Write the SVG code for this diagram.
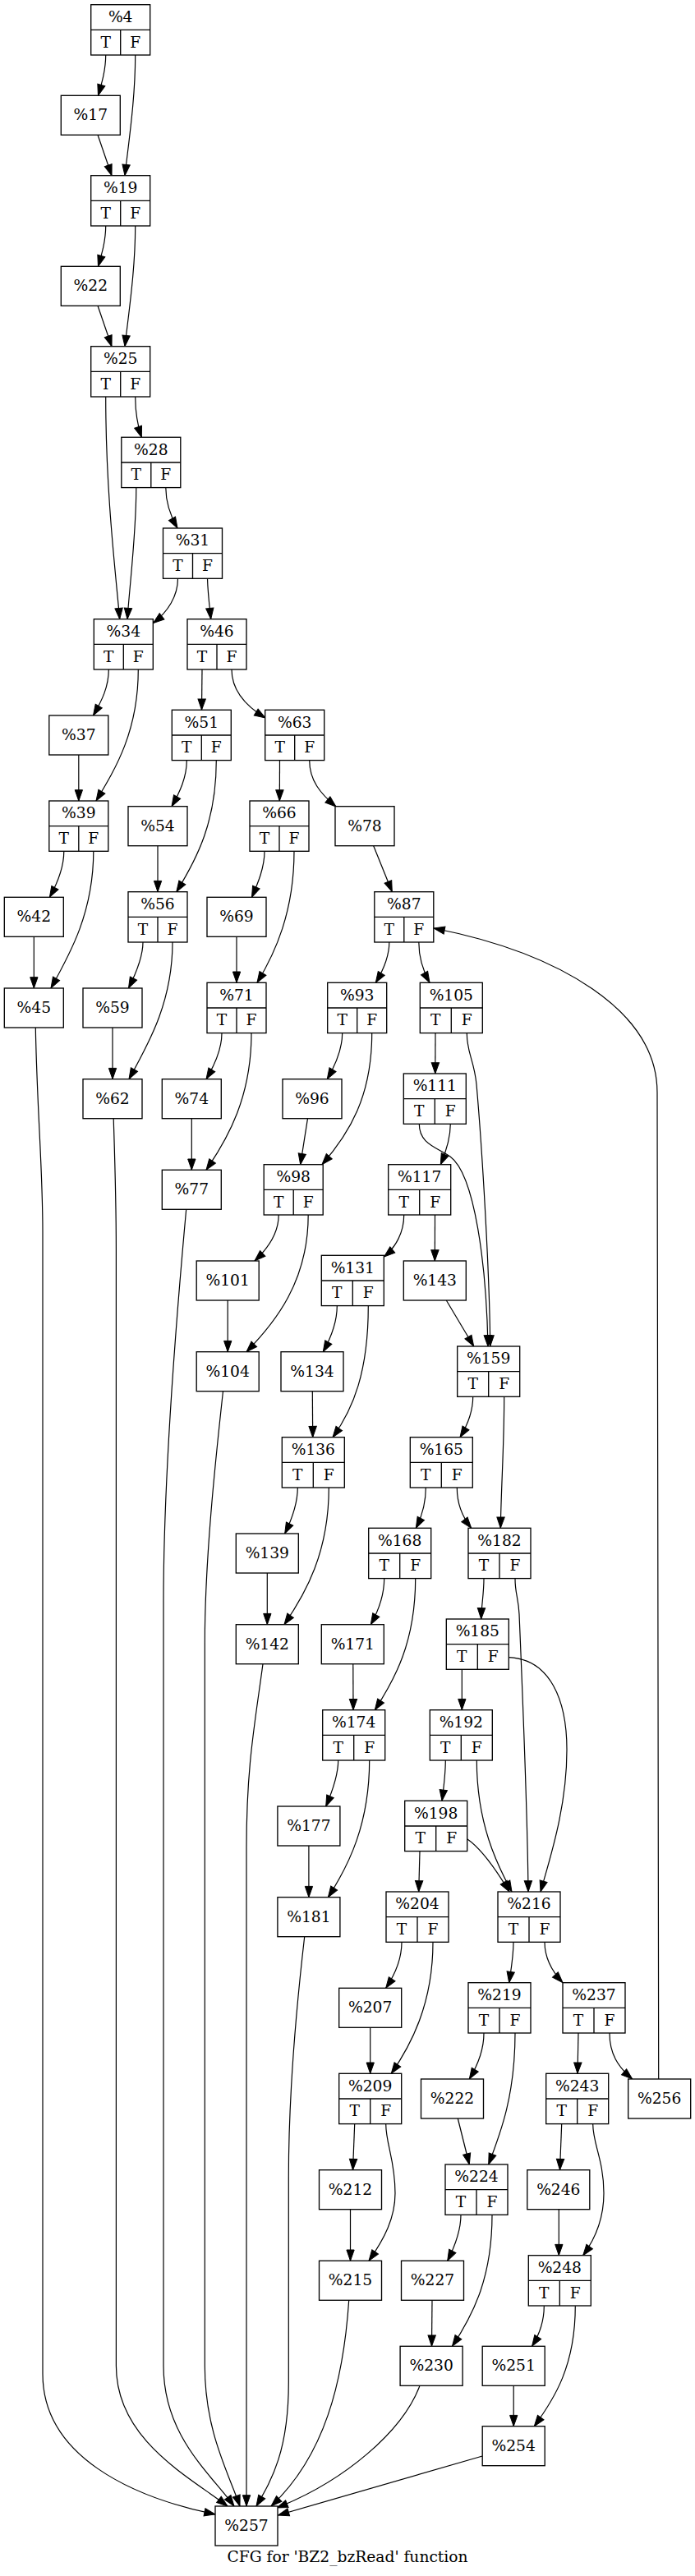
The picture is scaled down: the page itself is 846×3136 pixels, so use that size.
<svg xmlns="http://www.w3.org/2000/svg" width="846" height="3136" viewBox="0 0 846 3136">
<style>
.n rect{fill:#fff;stroke:#000;stroke-width:1.33}
.n path{fill:none;stroke:#000;stroke-width:1.33}
text{font-family:"DejaVu Serif","Liberation Serif",serif;font-size:18.67px;text-anchor:middle;fill:#000}
#edges path{fill:none;stroke:#000;stroke-width:1.2;marker-end:url(#ah)}
</style>
<defs>
<marker id="ah" markerUnits="userSpaceOnUse" markerWidth="14" markerHeight="10" refX="13.3" refY="4.7" orient="auto" viewBox="0 0 14 10" overflow="visible"><path d="M0,0L13.3,4.7L0,9.3z" fill="#000" stroke="#000" stroke-width="1"/></marker>
</defs>
<rect x="0" y="0" width="846" height="3136" fill="#fff"/>
<g id="edges">
<path d="M128.7,67 C128.7,85 124,101 119.5,116.3"/>
<path d="M164.7,67 C164.7,120 157,170 152,213.7"/>
<path d="M119,164.3 L136,213.7"/>
<path d="M128.7,275 C128.7,293 124,309 119.5,324.3"/>
<path d="M164.7,275 C164.7,328 157,378 152,421.7"/>
<path d="M119,372.3 L136,421.7"/>
<path d="M128.7,483 C128.7,600 141,700 145.7,753.7"/>
<path d="M164.7,483 C164.7,502 167.5,518 172.3,532.3"/>
<path d="M165.8,593.7 C165.8,650 158,710 155,753.7"/>
<path d="M201.8,593.7 C201.8,612 207.5,628 216,643"/>
<path d="M216.5,704.3 C216.5,726 204,745 186.5,758.5"/>
<path d="M252.5,704.3 C253,722 255,738 256.7,753.7"/>
<path d="M132.3,815 C132.3,836 124,853 113.5,871"/>
<path d="M168.3,815 C168.3,890 141,935 117,975"/>
<path d="M95.8,919 L95.8,975"/>
<path d="M77.8,1036.3 C77.8,1056 70,1075 60.4,1092.3"/>
<path d="M113.8,1036.3 C113.8,1110 86,1160 62,1203"/>
<path d="M41.3,1140.3 L41.3,1203"/>
<path d="M43.3,1251 C45,1350 52,1420 52,1500 L52,2890 C52,2990 160,3040 262,3061"/>
<path d="M246,815 L245.5,864.3"/>
<path d="M282,815 C282,842 300,860 323,874"/>
<path d="M227.3,925.7 C227.3,946 219,964 209,981.7"/>
<path d="M263.3,925.7 C263.3,1000 240,1045 214.8,1085.7"/>
<path d="M192,1029.7 L192,1085.7"/>
<path d="M174,1147 C174,1166 165,1186 156.5,1203"/>
<path d="M210,1147 C210,1220 181,1270 157,1313.7"/>
<path d="M137,1251 L137,1313.7"/>
<path d="M138.2,1361.7 C140,1420 141.4,1460 141.4,1520 L141.4,2880 C141.4,2970 230,3015 277,3051"/>
<path d="M340.5,925.7 L340.3,975"/>
<path d="M376.7,925.7 C376.7,950 390,966 409,982"/>
<path d="M322,1036.3 C322,1056 314,1075 306.5,1092.3"/>
<path d="M358,1036.3 C358,1110 335,1160 313,1196.3"/>
<path d="M288,1140.3 L288,1196.3"/>
<path d="M270,1257.7 C270,1278 261,1297 251,1313.7"/>
<path d="M306,1257.7 C306,1335 278,1385 251,1424.3"/>
<path d="M233.3,1361.7 L233.3,1424.3"/>
<path d="M226.7,1472.3 C215,1600 199,1800 199,1950 L199,2880 C199,2965 255,3010 285,3051"/>
<path d="M454.7,1029.7 L477.3,1085.7"/>
<path d="M473.8,1147 C473.8,1166 466,1182 457.3,1196.3"/>
<path d="M509.8,1147 C509.8,1166 515,1182 523,1196.3"/>
<path d="M416.7,1257.7 C416.7,1278 408,1297 398.3,1313.7"/>
<path d="M452.7,1257.7 C452.7,1335 425,1380 392,1417.7"/>
<path d="M374.5,1361.7 L365.7,1417.7"/>
<path d="M339.2,1479 C339.2,1500 326,1520 310,1535"/>
<path d="M375.2,1479 C375.2,1560 335,1610 300,1645.7"/>
<path d="M277.2,1583 L277.2,1645.7"/>
<path d="M271.5,1693.7 C262,1780 249.3,1900 249.3,2000 L249.3,2880 C249.3,2960 278,3010 292,3051"/>
<path d="M530,1257.7 L529.8,1307"/>
<path d="M568.3,1257.7 C568.3,1282 577,1290 580,1320 C587,1400 596,1550 596.7,1639"/>
<path d="M510.3,1368.3 C510.3,1392 530,1396 548,1408 C578,1430 592,1540 594,1639"/>
<path d="M548.3,1368.3 C548.3,1386 543,1402 536.3,1417.7"/>
<path d="M491.7,1479 C491.7,1500 482,1518 467.5,1530"/>
<path d="M529.5,1479 L529.3,1535"/>
<path d="M410.3,1589.7 C410.3,1610 402,1630 393.3,1645.7"/>
<path d="M448.3,1589.7 C448.3,1670 430,1715 405,1749.7"/>
<path d="M380.3,1693.7 L380.7,1749.7"/>
<path d="M362.3,1811 C362.3,1830 355,1850 346.7,1867"/>
<path d="M400.3,1811 C400.3,1890 372,1940 346,1977.7"/>
<path d="M325.3,1915 L325.3,1977.7"/>
<path d="M320,2025.7 C310,2100 300,2150 300,2250 L300,3051"/>
<path d="M543.3,1583 L576.7,1639"/>
<path d="M575.7,1700.3 C575.7,1719 569,1735 560,1749.7"/>
<path d="M613.7,1700.3 C613.7,1760 610,1810 609.3,1860.3"/>
<path d="M518.3,1811 C518.3,1830 513,1847 506.3,1860.3"/>
<path d="M556.3,1811 C556.3,1830 563,1847 573.7,1860.3"/>
<path d="M467.7,1921.7 C467.7,1942 460,1962 451.3,1977.7"/>
<path d="M505.7,1921.7 C505.7,2000 480,2045 456.3,2081.7"/>
<path d="M429.8,2025.7 L430,2081.7"/>
<path d="M411.7,2143 C411.7,2162 404,2182 396.7,2199"/>
<path d="M449.7,2143 C449.7,2220 425,2270 399.4,2309.7"/>
<path d="M375.9,2247 L375.9,2309.7"/>
<path d="M370.7,2357.7 C360,2450 351.3,2550 351.3,2650 L351.3,2900 C351.3,2985 330,3020 312,3051"/>
<path d="M589,1921.7 C589,1940 586,1955 585.7,1971"/>
<path d="M627,1921.7 C627,1940 631,1945 632,1965 C636,2060 642,2200 643,2303"/>
<path d="M562.3,2032.3 L562.3,2081.7"/>
<path d="M619.3,2017.7 C670,2020 690,2070 690,2130 C690,2200 670,2260 658,2303"/>
<path d="M542.3,2143 C542.3,2160 540,2177 538,2192.3"/>
<path d="M580.3,2143 C580.3,2220 605,2270 623,2303"/>
<path d="M569,2239 C585,2250 605,2278 620,2303"/>
<path d="M511,2253.7 L509.7,2303"/>
<path d="M489,2364.3 C489,2385 480,2405 469.7,2420.3"/>
<path d="M527,2364.3 C527,2440 500,2490 476.3,2524.3"/>
<path d="M450.7,2468.3 L450.7,2524.3"/>
<path d="M431.7,2585.7 L429.5,2641.7"/>
<path d="M469.7,2585.7 C469.7,2610 481,2630 481,2670 C481,2700 468,2725 449,2752.3"/>
<path d="M426.5,2689.7 L426.5,2752.3"/>
<path d="M424.7,2800.3 C418,2900 395,2990 330,3051"/>
<path d="M625,2364.3 C625,2382 622,2398 619.7,2413.7"/>
<path d="M663,2364.3 C663,2385 672,2400 685,2413.7"/>
<path d="M589,2475 C589,2495 581,2515 571.3,2531"/>
<path d="M627,2475 C627,2550 610,2595 594.7,2635"/>
<path d="M557.3,2579 L571.3,2635"/>
<path d="M561,2696.3 C561,2716 553,2736 544.7,2752.3"/>
<path d="M599,2696.3 C599,2770 578,2815 550.5,2856.3"/>
<path d="M526,2800.3 L525.5,2856.3"/>
<path d="M511,2904.3 C490,2960 420,3020 337,3053"/>
<path d="M704,2475 L703,2524.3"/>
<path d="M742,2475 C742,2500 752,2516 769.7,2531"/>
<path d="M683.7,2585.7 L681.5,2641.7"/>
<path d="M721.7,2585.7 C721.7,2610 735,2630 735,2670 C735,2700 725,2725 709.7,2745.7"/>
<path d="M680.3,2689.7 L680.3,2745.7"/>
<path d="M662.3,2807.3 C662.3,2826 656,2843 647.6,2856.3"/>
<path d="M700.3,2807.3 C700.3,2880 675,2920 650.3,2953.7"/>
<path d="M625.2,2904.3 L625.2,2953.7"/>
<path d="M587.2,2990 L338.5,3062"/>
<path d="M801.7,2531 L800,1330 C800,1230 680,1160 528,1130"/>
</g>
<g id="n4" class="n"><rect x="110.7" y="5.7" width="72" height="61.3"/><path d="M110.7,36.3h72M146.7,36.3v30.7"/><text x="146.7" y="27">%4</text><text x="128.7" y="57.7">T</text><text x="164.7" y="57.7">F</text></g>
<g id="n17" class="n"><rect x="74.3" y="116.3" width="72" height="48"/><text x="110.3" y="146.3">%17</text></g>
<g id="n19" class="n"><rect x="110.7" y="213.7" width="72" height="61.3"/><path d="M110.7,244.3h72M146.7,244.3v30.7"/><text x="146.7" y="235">%19</text><text x="128.7" y="265.7">T</text><text x="164.7" y="265.7">F</text></g>
<g id="n22" class="n"><rect x="74.3" y="324.3" width="72" height="48"/><text x="110.3" y="354.3">%22</text></g>
<g id="n25" class="n"><rect x="110.7" y="421.7" width="72" height="61.3"/><path d="M110.7,452.3h72M146.7,452.3v30.7"/><text x="146.7" y="443">%25</text><text x="128.7" y="473.7">T</text><text x="164.7" y="473.7">F</text></g>
<g id="n28" class="n"><rect x="147.8" y="532.3" width="72" height="61.3"/><path d="M147.8,563h72M183.8,563v30.7"/><text x="183.8" y="553.7">%28</text><text x="165.8" y="584.3">T</text><text x="201.8" y="584.3">F</text></g>
<g id="n31" class="n"><rect x="198.5" y="643" width="72" height="61.3"/><path d="M198.5,673.7h72M234.5,673.7v30.7"/><text x="234.5" y="664.3">%31</text><text x="216.5" y="695">T</text><text x="252.5" y="695">F</text></g>
<g id="n34" class="n"><rect x="114.3" y="753.7" width="72" height="61.3"/><path d="M114.3,784.3h72M150.3,784.3v30.7"/><text x="150.3" y="775">%34</text><text x="132.3" y="805.7">T</text><text x="168.3" y="805.7">F</text></g>
<g id="n46" class="n"><rect x="228" y="753.7" width="72" height="61.3"/><path d="M228,784.3h72M264,784.3v30.7"/><text x="264" y="775">%46</text><text x="246" y="805.7">T</text><text x="282" y="805.7">F</text></g>
<g id="n37" class="n"><rect x="59.8" y="871" width="72" height="48"/><text x="95.8" y="901">%37</text></g>
<g id="n51" class="n"><rect x="209.3" y="864.3" width="72" height="61.3"/><path d="M209.3,895h72M245.3,895v30.7"/><text x="245.3" y="885.7">%51</text><text x="227.3" y="916.3">T</text><text x="263.3" y="916.3">F</text></g>
<g id="n63" class="n"><rect x="322.7" y="864.3" width="72" height="61.3"/><path d="M322.7,895h72M358.7,895v30.7"/><text x="358.7" y="885.7">%63</text><text x="340.7" y="916.3">T</text><text x="376.7" y="916.3">F</text></g>
<g id="n39" class="n"><rect x="59.8" y="975" width="72" height="61.3"/><path d="M59.8,1005.7h72M95.8,1005.7v30.7"/><text x="95.8" y="996.3">%39</text><text x="77.8" y="1027">T</text><text x="113.8" y="1027">F</text></g>
<g id="n54" class="n"><rect x="156" y="981.7" width="72" height="48"/><text x="192" y="1011.7">%54</text></g>
<g id="n66" class="n"><rect x="304" y="975" width="72" height="61.3"/><path d="M304,1005.7h72M340,1005.7v30.7"/><text x="340" y="996.3">%66</text><text x="322" y="1027">T</text><text x="358" y="1027">F</text></g>
<g id="n78" class="n"><rect x="408" y="981.7" width="72" height="48"/><text x="444" y="1011.7">%78</text></g>
<g id="n42" class="n"><rect x="5.3" y="1092.3" width="72" height="48"/><text x="41.3" y="1122.3">%42</text></g>
<g id="n56" class="n"><rect x="156" y="1085.7" width="72" height="61.3"/><path d="M156,1116.3h72M192,1116.3v30.7"/><text x="192" y="1107">%56</text><text x="174" y="1137.7">T</text><text x="210" y="1137.7">F</text></g>
<g id="n69" class="n"><rect x="252" y="1092.3" width="72" height="48"/><text x="288" y="1122.3">%69</text></g>
<g id="n87" class="n"><rect x="455.8" y="1085.7" width="72" height="61.3"/><path d="M455.8,1116.3h72M491.8,1116.3v30.7"/><text x="491.8" y="1107">%87</text><text x="473.8" y="1137.7">T</text><text x="509.8" y="1137.7">F</text></g>
<g id="n45" class="n"><rect x="5.3" y="1203" width="72" height="48"/><text x="41.3" y="1233">%45</text></g>
<g id="n59" class="n"><rect x="101" y="1203" width="72" height="48"/><text x="137" y="1233">%59</text></g>
<g id="n71" class="n"><rect x="252" y="1196.3" width="72" height="61.3"/><path d="M252,1227h72M288,1227v30.7"/><text x="288" y="1217.7">%71</text><text x="270" y="1248.3">T</text><text x="306" y="1248.3">F</text></g>
<g id="n93" class="n"><rect x="398.7" y="1196.3" width="72" height="61.3"/><path d="M398.7,1227h72M434.7,1227v30.7"/><text x="434.7" y="1217.7">%93</text><text x="416.7" y="1248.3">T</text><text x="452.7" y="1248.3">F</text></g>
<g id="n105" class="n"><rect x="511.3" y="1196.3" width="76" height="61.3"/><path d="M511.3,1227h76M549.3,1227v30.7"/><text x="549.3" y="1217.7">%105</text><text x="530.3" y="1248.3">T</text><text x="568.3" y="1248.3">F</text></g>
<g id="n62" class="n"><rect x="101" y="1313.7" width="72" height="48"/><text x="137" y="1343.7">%62</text></g>
<g id="n74" class="n"><rect x="197.3" y="1313.7" width="72" height="48"/><text x="233.3" y="1343.7">%74</text></g>
<g id="n96" class="n"><rect x="344" y="1313.7" width="72" height="48"/><text x="380" y="1343.7">%96</text></g>
<g id="n111" class="n"><rect x="491.3" y="1307" width="76" height="61.3"/><path d="M491.3,1337.7h76M529.3,1337.7v30.7"/><text x="529.3" y="1328.3">%111</text><text x="510.3" y="1359">T</text><text x="548.3" y="1359">F</text></g>
<g id="n77" class="n"><rect x="197.3" y="1424.3" width="72" height="48"/><text x="233.3" y="1454.3">%77</text></g>
<g id="n98" class="n"><rect x="321.2" y="1417.7" width="72" height="61.3"/><path d="M321.2,1448.3h72M357.2,1448.3v30.7"/><text x="357.2" y="1439">%98</text><text x="339.2" y="1469.7">T</text><text x="375.2" y="1469.7">F</text></g>
<g id="n117" class="n"><rect x="472.7" y="1417.7" width="76" height="61.3"/><path d="M472.7,1448.3h76M510.7,1448.3v30.7"/><text x="510.7" y="1439">%117</text><text x="491.7" y="1469.7">T</text><text x="529.7" y="1469.7">F</text></g>
<g id="n101" class="n"><rect x="239.2" y="1535" width="76" height="48"/><text x="277.2" y="1565">%101</text></g>
<g id="n131" class="n"><rect x="391.3" y="1528.3" width="76" height="61.3"/><path d="M391.3,1559h76M429.3,1559v30.7"/><text x="429.3" y="1549.7">%131</text><text x="410.3" y="1580.3">T</text><text x="448.3" y="1580.3">F</text></g>
<g id="n143" class="n"><rect x="491.3" y="1535" width="76" height="48"/><text x="529.3" y="1565">%143</text></g>
<g id="n104" class="n"><rect x="239.2" y="1645.7" width="76" height="48"/><text x="277.2" y="1675.7">%104</text></g>
<g id="n134" class="n"><rect x="342" y="1645.7" width="76" height="48"/><text x="380" y="1675.7">%134</text></g>
<g id="n159" class="n"><rect x="556.7" y="1639" width="76" height="61.3"/><path d="M556.7,1669.7h76M594.7,1669.7v30.7"/><text x="594.7" y="1660.3">%159</text><text x="575.7" y="1691">T</text><text x="613.7" y="1691">F</text></g>
<g id="n136" class="n"><rect x="343.3" y="1749.7" width="76" height="61.3"/><path d="M343.3,1780.3h76M381.3,1780.3v30.7"/><text x="381.3" y="1771">%136</text><text x="362.3" y="1801.7">T</text><text x="400.3" y="1801.7">F</text></g>
<g id="n165" class="n"><rect x="499.3" y="1749.7" width="76" height="61.3"/><path d="M499.3,1780.3h76M537.3,1780.3v30.7"/><text x="537.3" y="1771">%165</text><text x="518.3" y="1801.7">T</text><text x="556.3" y="1801.7">F</text></g>
<g id="n139" class="n"><rect x="287.3" y="1867" width="76" height="48"/><text x="325.3" y="1897">%139</text></g>
<g id="n168" class="n"><rect x="448.7" y="1860.3" width="76" height="61.3"/><path d="M448.7,1891h76M486.7,1891v30.7"/><text x="486.7" y="1881.7">%168</text><text x="467.7" y="1912.3">T</text><text x="505.7" y="1912.3">F</text></g>
<g id="n182" class="n"><rect x="570" y="1860.3" width="76" height="61.3"/><path d="M570,1891h76M608,1891v30.7"/><text x="608" y="1881.7">%182</text><text x="589" y="1912.3">T</text><text x="627" y="1912.3">F</text></g>
<g id="n142" class="n"><rect x="287.3" y="1977.7" width="76" height="48"/><text x="325.3" y="2007.7">%142</text></g>
<g id="n171" class="n"><rect x="391.3" y="1977.7" width="76" height="48"/><text x="429.3" y="2007.7">%171</text></g>
<g id="n185" class="n"><rect x="543.3" y="1971" width="76" height="61.3"/><path d="M543.3,2001.7h76M581.3,2001.7v30.7"/><text x="581.3" y="1992.3">%185</text><text x="562.3" y="2023">T</text><text x="600.3" y="2023">F</text></g>
<g id="n174" class="n"><rect x="392.7" y="2081.7" width="76" height="61.3"/><path d="M392.7,2112.3h76M430.7,2112.3v30.7"/><text x="430.7" y="2103">%174</text><text x="411.7" y="2133.7">T</text><text x="449.7" y="2133.7">F</text></g>
<g id="n192" class="n"><rect x="523.3" y="2081.7" width="76" height="61.3"/><path d="M523.3,2112.3h76M561.3,2112.3v30.7"/><text x="561.3" y="2103">%192</text><text x="542.3" y="2133.7">T</text><text x="580.3" y="2133.7">F</text></g>
<g id="n177" class="n"><rect x="337.9" y="2199" width="76" height="48"/><text x="375.9" y="2229">%177</text></g>
<g id="n198" class="n"><rect x="492.7" y="2192.3" width="76" height="61.3"/><path d="M492.7,2223h76M530.7,2223v30.7"/><text x="530.7" y="2213.7">%198</text><text x="511.7" y="2244.3">T</text><text x="549.7" y="2244.3">F</text></g>
<g id="n181" class="n"><rect x="337.9" y="2309.7" width="76" height="48"/><text x="375.9" y="2339.7">%181</text></g>
<g id="n204" class="n"><rect x="470" y="2303" width="76" height="61.3"/><path d="M470,2333.7h76M508,2333.7v30.7"/><text x="508" y="2324.3">%204</text><text x="489" y="2355">T</text><text x="527" y="2355">F</text></g>
<g id="n216" class="n"><rect x="606" y="2303" width="76" height="61.3"/><path d="M606,2333.7h76M644,2333.7v30.7"/><text x="644" y="2324.3">%216</text><text x="625" y="2355">T</text><text x="663" y="2355">F</text></g>
<g id="n207" class="n"><rect x="412.7" y="2420.3" width="76" height="48"/><text x="450.7" y="2450.3">%207</text></g>
<g id="n219" class="n"><rect x="570" y="2413.7" width="76" height="61.3"/><path d="M570,2444.3h76M608,2444.3v30.7"/><text x="608" y="2435">%219</text><text x="589" y="2465.7">T</text><text x="627" y="2465.7">F</text></g>
<g id="n237" class="n"><rect x="685" y="2413.7" width="76" height="61.3"/><path d="M685,2444.3h76M723,2444.3v30.7"/><text x="723" y="2435">%237</text><text x="704" y="2465.7">T</text><text x="742" y="2465.7">F</text></g>
<g id="n209" class="n"><rect x="412.7" y="2524.3" width="76" height="61.3"/><path d="M412.7,2555h76M450.7,2555v30.7"/><text x="450.7" y="2545.7">%209</text><text x="431.7" y="2576.3">T</text><text x="469.7" y="2576.3">F</text></g>
<g id="n222" class="n"><rect x="512.5" y="2531" width="76" height="48"/><text x="550.5" y="2561">%222</text></g>
<g id="n243" class="n"><rect x="664.7" y="2524.3" width="76" height="61.3"/><path d="M664.7,2555h76M702.7,2555v30.7"/><text x="702.7" y="2545.7">%243</text><text x="683.7" y="2576.3">T</text><text x="721.7" y="2576.3">F</text></g>
<g id="n256" class="n"><rect x="764.7" y="2531" width="76" height="48"/><text x="802.7" y="2561">%256</text></g>
<g id="n212" class="n"><rect x="388.5" y="2641.7" width="76" height="48"/><text x="426.5" y="2671.7">%212</text></g>
<g id="n224" class="n"><rect x="542" y="2635" width="76" height="61.3"/><path d="M542,2665.7h76M580,2665.7v30.7"/><text x="580" y="2656.3">%224</text><text x="561" y="2687">T</text><text x="599" y="2687">F</text></g>
<g id="n246" class="n"><rect x="641.8" y="2641.7" width="76" height="48"/><text x="679.8" y="2671.7">%246</text></g>
<g id="n215" class="n"><rect x="388.5" y="2752.3" width="76" height="48"/><text x="426.5" y="2782.3">%215</text></g>
<g id="n227" class="n"><rect x="488.5" y="2752.3" width="76" height="48"/><text x="526.5" y="2782.3">%227</text></g>
<g id="n248" class="n"><rect x="643.3" y="2745.7" width="76" height="61.3"/><path d="M643.3,2776.3h76M681.3,2776.3v30.7"/><text x="681.3" y="2767">%248</text><text x="662.3" y="2797.7">T</text><text x="700.3" y="2797.7">F</text></g>
<g id="n230" class="n"><rect x="487.1" y="2856.3" width="76" height="48"/><text x="525.1" y="2886.3">%230</text></g>
<g id="n251" class="n"><rect x="587.2" y="2856.3" width="76" height="48"/><text x="625.2" y="2886.3">%251</text></g>
<g id="n254" class="n"><rect x="587.2" y="2953.7" width="76" height="48"/><text x="625.2" y="2983.7">%254</text></g>
<g id="n257" class="n"><rect x="262" y="3051" width="76" height="48"/><text x="300" y="3081">%257</text></g>
<text id="title" x="423" y="3119">CFG for 'BZ2_bzRead' function</text>
</svg>
